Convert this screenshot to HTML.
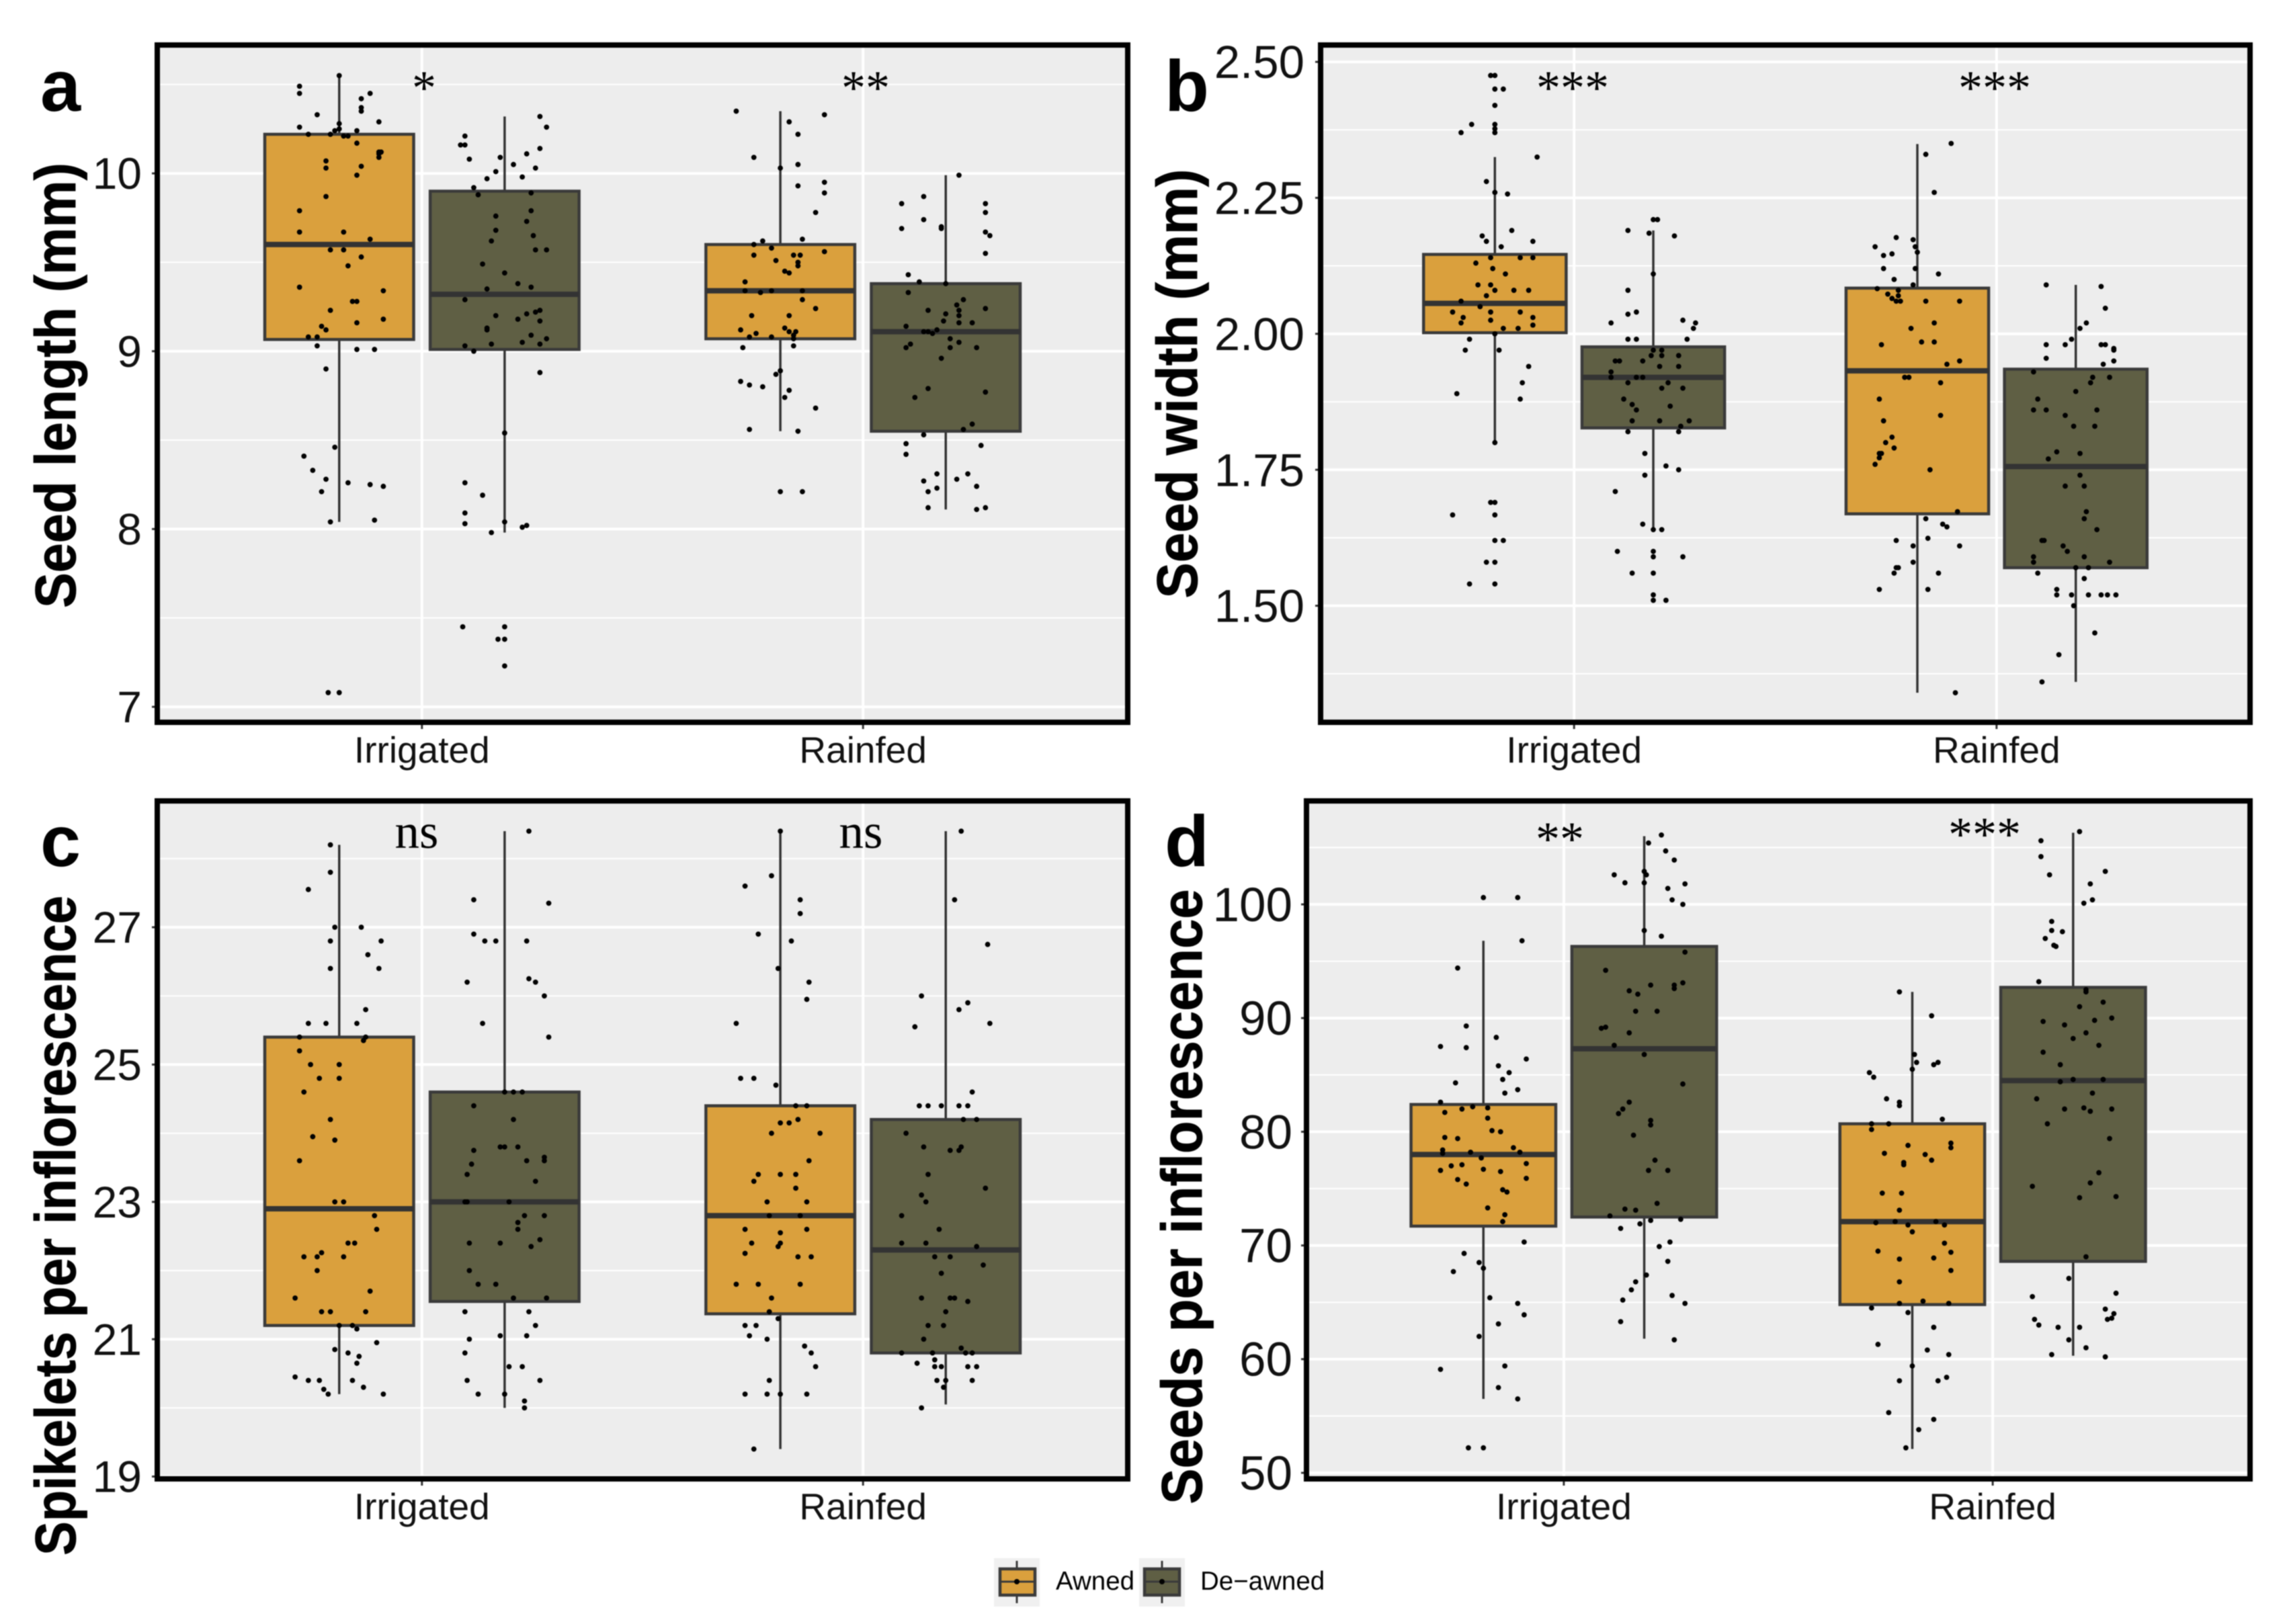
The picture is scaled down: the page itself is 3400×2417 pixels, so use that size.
<!DOCTYPE html>
<html lang="en">
<head>
<meta charset="utf-8">
<title>Seed traits boxplots</title>
<style>
html,body{margin:0;padding:0;background:#fff;}
#chart{display:block;width:3400px;height:2417px;filter:blur(0.8px);font-family:"Liberation Sans",sans-serif;}
.axt{font-family:"Liberation Sans",sans-serif;font-weight:700;font-size:78px;fill:#000;stroke:#000;stroke-width:0.8px;text-anchor:middle;}
.let{font-family:"Liberation Sans",sans-serif;font-weight:700;font-size:108px;fill:#000;}
.sig{font-family:"Liberation Serif",serif;font-size:72px;fill:#000;text-anchor:middle;}
.leg{font-family:"Liberation Sans",sans-serif;font-size:38.5px;fill:#000;}
</style>
</head>
<body>
<svg id="chart" xmlns="http://www.w3.org/2000/svg" width="3400" height="2417" viewBox="0 0 3400 2417">
<rect x="0" y="0" width="3400" height="2417" fill="#fff"/>
<g id="plots"></g>

<text class="let" x="60" y="165">a</text>
<text class="let" x="1733" y="165">b</text>
<text class="let" x="60" y="1289">c</text>
<text class="let" x="1733" y="1289">d</text>

<text class="axt" transform="translate(112,573.5) rotate(-90) scale(1.013,1.1)">Seed length (mm)</text>
<text class="axt" transform="translate(1781,571) rotate(-90) scale(1.024,1.1)">Seed width (mm)</text>
<text class="axt" transform="translate(112,1824) rotate(-90) scale(0.972,1.1)">Spikelets per inflorescence</text>
<text class="axt" transform="translate(1788,1781) rotate(-90) scale(1.02,1.1)">Seeds per inflorescence</text>

<text class="sig" x="631" y="155">*</text>
<text class="sig" x="1288" y="155">**</text>
<text class="sig" x="2340" y="155">***</text>
<text class="sig" x="2968" y="155">***</text>
<text class="sig" x="620" y="1262" style="font-size:73px">ns</text>
<text class="sig" x="1281" y="1262" style="font-size:73px">ns</text>
<text class="sig" x="2321" y="1273">**</text>
<text class="sig" x="2953" y="1266">***</text>

<g>
  <g>
    <rect x="1479" y="2319" width="68" height="72" fill="#f0f0f0"/>
    <line x1="1513" x2="1513" y1="2323" y2="2386" stroke="#3a3a3a" stroke-width="3"/>
    <rect x="1488" y="2335" width="52" height="39" fill="#daa03d" stroke="#3a3a3a" stroke-width="4.5"/>
    <line x1="1488" x2="1540" y1="2354" y2="2354" stroke="#3a3a3a" stroke-width="3"/>
    <circle cx="1513" cy="2354" r="4" fill="#000"/>
    <text class="leg" x="1571" y="2366">Awned</text>
  </g>
  <g>
    <rect x="1695" y="2319" width="68" height="72" fill="#f0f0f0"/>
    <line x1="1729" x2="1729" y1="2323" y2="2386" stroke="#3a3a3a" stroke-width="3"/>
    <rect x="1703" y="2335" width="52" height="39" fill="#5f5f44" stroke="#3a3a3a" stroke-width="4.5"/>
    <line x1="1703" x2="1755" y1="2354" y2="2354" stroke="#3a3a3a" stroke-width="3"/>
    <circle cx="1729" cy="2354" r="4" fill="#000"/>
    <text class="leg" x="1786" y="2366">De−awned</text>
  </g>
</g>
</svg>

<script>
// Shared categories
const categories = ['Irrigated', 'Rainfed'];
const treatments = ['Awned', 'De-awned'];

// Box statistics, order: Irrigated-Awned, Irrigated-De-awned, Rainfed-Awned, Rainfed-De-awned
const lengthQ1 = [9.066, 9.01, 9.07, 8.55];
const lengthMedian = [9.60, 9.32, 9.34, 9.11];
const lengthQ3 = [10.22, 9.90, 9.60, 9.38];
const lengthLow = [8.04, 7.98, 8.55, 8.11];
const lengthHigh = [10.55, 10.32, 10.35, 9.99];

const widthQ1 = [2.002, 1.827, 1.669, 1.57];
const widthMedian = [2.056, 1.92, 1.932, 1.756];
const widthQ3 = [2.146, 1.976, 2.084, 1.935];
const widthLow = [1.80, 1.64, 1.34, 1.36];
const widthHigh = [2.325, 2.19, 2.349, 2.09];

const spikeletQ1 = [21.2, 21.55, 21.37, 20.8];
const spikeletMedian = [22.9, 23, 22.8, 22.3];
const spikeletQ3 = [25.4, 24.6, 24.4, 24.2];
const spikeletLow = [20.2, 20, 19.4, 20.05];
const spikeletHigh = [28.2, 28.4, 28.4, 28.4];

const seedQ1 = [71.7, 72.5, 64.8, 68.6];
const seedMedian = [78, 87.3, 72.1, 84.5];
const seedQ3 = [82.4, 96.3, 80.7, 92.7];
const seedLow = [56.5, 61.8, 52.1, 60.3];
const seedHigh = [96.8, 106, 92.3, 106.3];

// Axis ticks
const lengthTicks = [7, 8, 9, 10];
const lengthTickLabels = ['7', '8', '9', '10'];
const lengthMinor = [7.5, 8.5, 9.5, 10.5];
const widthTicks = [1.5, 1.75, 2, 2.25, 2.5];
const widthTickLabels = ['1.50', '1.75', '2.00', '2.25', '2.50'];
const widthMinor = [1.375, 1.625, 1.875, 2.125, 2.375];
const spikeletTicks = [19, 21, 23, 25, 27];
const spikeletTickLabels = ['19', '21', '23', '25', '27'];
const spikeletMinor = [20, 22, 24, 26, 28];
const seedTicks = [50, 60, 70, 80, 90, 100];
const seedTickLabels = ['50', '60', '70', '80', '90', '100'];
const seedMinor = [55, 65, 75, 85, 95, 105];

// Jittered observations: [jitter in hundredths of an x-axis unit, measured value]
const lengthIrrAwned = [[0,10.55],[-9,10.49],[-9,10.45],[7,10.45],[5,10.42],[5,10.37],[5,10.35],[-5,10.33],[9,10.29],[-9,10.26],[0,10.28],[0,10.25],[-1,10.24],[4,10.24],[-7,10.22],[-2,10.22],[1,10.21],[2,10.21],[4,10.17],[9,10.12],[9.5,10.12],[9,10.11],[9,10.09],[-3,10.07],[-3,10.03],[5,10.04],[4,9.99],[-3,9.87],[-9,9.79],[-9,9.67],[1,9.67],[7,9.63],[-2,9.57],[1,9.57],[5,9.53],[2,9.48],[-9,9.36],[10,9.34],[3,9.28],[4,9.28],[-2,9.23],[10,9.18],[4,9.16],[-4,9.14],[-3,9.12],[-7,9.08],[-5,9.08],[-5,9.03],[4,9.01],[8,9.01],[-3,8.90],[-1,8.46],[-8,8.41],[-6,8.33],[-3,8.28],[2,8.26],[7,8.25],[10,8.24],[-4,8.21],[-2,8.04],[8,8.05],[-2.5,7.08],[0,7.08]];
const lengthIrrDeawned = [[8,10.32],[9.5,10.26],[-9,10.21],[-10,10.16],[-9,10.16],[8,10.14],[-8,10.08],[-1,10.09],[5,10.11],[2,10.05],[7,10.03],[-2,10.01],[4,9.98],[-4,9.97],[-7,9.92],[-6,9.88],[6,9.89],[6,9.79],[-2,9.76],[5,9.73],[-2,9.68],[6.5,9.65],[-3,9.62],[7,9.57],[9.5,9.57],[-5,9.49],[0,9.44],[3,9.38],[6,9.36],[-4,9.35],[-9,9.29],[8,9.23],[7,9.22],[5,9.21],[-2,9.20],[3,9.18],[8,9.17],[-4,9.13],[-4,9.12],[6,9.09],[9.5,9.07],[4,9.05],[-3,9.04],[8,9.04],[-9,9.03],[-7,9.00],[8,8.88],[0,8.54],[-9,8.26],[-5,8.19],[-9,8.09],[-9,8.03],[0,8.04],[4,8.01],[5,8.02],[-3,7.98],[-9.5,7.45],[0,7.45],[-1.5,7.38],[0,7.38],[0,7.23]];
const lengthRainAwned = [[-10,10.35],[10,10.33],[2,10.29],[4,10.22],[-6,10.09],[4,10.05],[0,10.03],[4,9.93],[10,9.95],[10,9.89],[8,9.78],[5,9.63],[-4,9.62],[-6,9.60],[-2,9.58],[10,9.56],[-6,9.54],[3,9.54],[4.5,9.54],[-1,9.51],[4,9.50],[4,9.48],[1,9.45],[2,9.44],[-8,9.39],[-8,9.34],[-4.5,9.33],[-2,9.34],[5,9.34],[5,9.29],[8,9.24],[-6.5,9.20],[2,9.20],[1,9.13],[-9,9.12],[2,9.11],[3.5,9.11],[-5.5,9.10],[-7,9.08],[-2,9.08],[3,9.09],[3,9.07],[3,9.03],[-8.5,9.02],[0,8.89],[-1,8.87],[-9,8.83],[-7,8.81],[-4,8.80],[2,8.78],[1,8.74],[8,8.68],[-7,8.56],[4,8.55],[0,8.21],[5,8.21]];
const lengthRainDeawned = [[3,9.99],[-10,9.83],[-5,9.87],[9,9.83],[9,9.78],[-5,9.74],[-10,9.69],[-1,9.70],[-1,9.69],[9,9.67],[10,9.65],[9,9.55],[-8.5,9.43],[-6,9.39],[0,9.38],[-8.5,9.33],[4,9.29],[2.5,9.26],[-4,9.23],[9,9.24],[3,9.23],[0,9.21],[3,9.20],[-0.5,9.17],[3,9.16],[6,9.16],[-9,9.14],[-5,9.11],[-4,9.11],[-2,9.12],[-3,9.10],[1,9.07],[3,9.05],[-8,9.04],[-9,9.02],[1,9.02],[7,9.02],[-1,8.96],[-4,8.79],[-7,8.74],[9,8.77],[6,8.59],[4,8.56],[-5,8.53],[-9,8.48],[8,8.47],[-9,8.42],[-2,8.31],[5,8.31],[2.5,8.28],[-5,8.27],[-2,8.23],[7,8.24],[-4,8.21],[-4,8.12],[7,8.11],[9,8.12]];

const widthIrrAwned = [[-1,2.475],[0,2.475],[0,2.45],[2,2.45],[0,2.42],[-5.5,2.385],[-8,2.37],[0,2.385],[0,2.377],[0,2.37],[10,2.325],[-2,2.28],[0,2.26],[3,2.257],[4,2.19],[-3,2.18],[-2,2.17],[9,2.17],[1.5,2.16],[-1,2.14],[6,2.14],[9,2.14],[-4.5,2.13],[-0.5,2.12],[2.5,2.11],[-4,2.09],[-1,2.09],[0,2.08],[4.5,2.08],[8,2.08],[-2,2.07],[-8,2.06],[-3.5,2.05],[-1,2.04],[-10,2.04],[6,2.04],[9,2.03],[-1,2.025],[-7.5,2.03],[-8,2.02],[9,2.016],[2,2.01],[5.5,2.01],[0,2.00],[-6,1.99],[-7,1.97],[1,1.97],[8,1.94],[6.5,1.91],[-9,1.89],[6,1.88],[0,1.80],[-1,1.69],[0,1.69],[-10,1.667],[0,1.667],[0,1.62],[2,1.62],[-2,1.58],[0,1.58],[-6,1.54],[0,1.54]];
const widthIrrDeawned = [[0,2.21],[1,2.21],[-6,2.19],[-1,2.185],[5,2.18],[0,2.11],[-6,2.08],[-4,2.04],[-6,2.036],[7,2.025],[-10,2.02],[10,2.02],[9.5,2.01],[8,1.99],[-6,1.99],[-4,1.99],[0,1.97],[2,1.97],[-0.5,1.96],[2,1.96],[6,1.96],[-9,1.95],[-8,1.95],[-2.5,1.95],[1.5,1.94],[6,1.94],[-10,1.93],[-10,1.92],[-4,1.92],[-2.5,1.92],[3.5,1.91],[-6,1.91],[2,1.90],[7,1.90],[-7,1.88],[-5,1.87],[-4,1.86],[4,1.867],[-5,1.84],[1.5,1.84],[8.5,1.84],[6.5,1.83],[-6,1.82],[6,1.82],[-2,1.78],[3,1.757],[6,1.75],[-2,1.74],[-9,1.71],[-2.5,1.65],[0,1.64],[2,1.64],[-8.5,1.60],[0,1.60],[0,1.59],[7,1.59],[-5,1.56],[0,1.56],[0,1.52],[0,1.51],[3,1.51]];
const widthRainAwned = [[8,2.35],[2,2.33],[4,2.26],[-5,2.177],[-1,2.173],[-10,2.16],[-0.5,2.16],[0,2.15],[-6,2.147],[-8,2.144],[-8,2.12],[-0.5,2.12],[5,2.11],[-5.5,2.10],[-1,2.09],[-9.5,2.083],[-4.5,2.08],[-7,2.073],[-4.5,2.07],[-6,2.065],[-5,2.06],[-4,2.06],[2,2.06],[10,2.06],[4,2.02],[-1.5,2.01],[1,1.985],[4,1.985],[-8.5,1.98],[10,1.95],[7,1.944],[-3,1.92],[-2,1.92],[5.5,1.91],[-9,1.88],[5.5,1.85],[-8,1.84],[-6,1.81],[-7.5,1.80],[-5.5,1.79],[-9,1.78],[-8.5,1.78],[-9,1.772],[-10,1.76],[3,1.75],[9.5,1.673],[2,1.66],[6,1.65],[7,1.645],[-5,1.62],[2.5,1.624],[-1,1.61],[10,1.61],[-1,1.58],[-5,1.57],[-4.5,1.57],[-5.5,1.56],[5,1.56],[-9,1.53],[2.5,1.53],[9,1.34]];
const widthRainDeawned = [[-7,2.09],[6,2.087],[7,2.047],[2.5,2.02],[1,2.01],[-1,1.99],[-2.5,1.98],[-7,1.98],[7,1.98],[6,1.98],[9,1.973],[9,1.97],[-7,1.955],[9,1.95],[6.5,1.944],[-10,1.93],[4,1.92],[8,1.92],[3.5,1.91],[0,1.894],[-9,1.88],[-10,1.86],[-7,1.86],[5,1.86],[-2.5,1.85],[-0.5,1.83],[4.5,1.83],[-4.5,1.783],[1,1.78],[-6.5,1.77],[1,1.74],[-2.5,1.72],[2,1.72],[2.5,1.673],[2,1.66],[5,1.64],[-8,1.62],[-7.5,1.62],[-3,1.61],[-2,1.60],[-10,1.59],[-10,1.58],[2,1.59],[8,1.58],[-9,1.56],[0,1.57],[3,1.57],[2,1.55],[-4.5,1.53],[-4.5,1.52],[-1,1.52],[3,1.52],[6,1.52],[7.5,1.52],[9.5,1.52],[-0.5,1.50],[4.5,1.45],[-4,1.41],[-8,1.36]];

const spikeletIrrAwned = [[-2,28.2],[-2,27.8],[-7,27.55],[-1,27],[5,27],[-2,26.8],[9.5,26.8],[6.5,26.6],[-2,26.4],[9,26.4],[6,25.8],[-7,25.6],[-3,25.6],[4,25.6],[-9,25.4],[6,25.4],[5.5,25.35],[-9,25.2],[-6.5,25],[0,25],[-4.5,24.8],[0,24.8],[-8,24.6],[-2,24.2],[-6,23.95],[-1,23.9],[-9,23.6],[-1,23],[1,23],[8,22.8],[8.5,22.6],[2,22.4],[3.5,22.4],[-8,22.2],[-4,22.26],[-5,22.2],[1,22.2],[-5,22],[7,21.7],[-10,21.6],[-4,21.4],[-2,21.4],[6,21.4],[0,21.2],[3,21.2],[4,21.15],[8.5,20.95],[-1,20.85],[2,20.8],[4.5,20.75],[4,20.65],[-10,20.45],[-7,20.4],[-4.5,20.4],[3,20.4],[5.5,20.3],[-3.5,20.27],[-2.5,20.2],[10,20.2]];
const spikeletIrrDeawned = [[5.5,28.4],[-7,27.4],[10,27.35],[-7,26.9],[-4.5,26.8],[-2,26.8],[5,26.8],[-8.5,26.2],[5.5,26.25],[7,26.2],[9,26],[-5,25.6],[10,25.4],[0,24.6],[2,24.6],[4,24.6],[-7,24.4],[2,24.2],[-7,23.75],[-1,23.8],[0,23.8],[3,23.8],[9,23.65],[5,23.6],[9,23.6],[-7.5,23.55],[-8.5,23.4],[7,23.3],[-9,23],[-8.5,23],[1,23],[4.5,22.8],[9,22.8],[3,22.7],[3,22.6],[-8,22.4],[-1,22.4],[8,22.45],[6,22.35],[-8,22],[-6,21.8],[-2,21.8],[2,21.6],[9.5,21.6],[-9,21.4],[5.5,21.4],[7,21.2],[5,21.05],[-1,21.05],[-8,21],[-9,20.8],[1,20.6],[4,20.6],[-8.5,20.4],[8,20.4],[-6,20.2],[0,20.2],[4.5,20.1],[4.5,20]];
const spikeletRainAwned = [[0,28.4],[-2,27.75],[-8,27.6],[4.5,27.4],[4.5,27.2],[-5,26.9],[2.5,26.8],[-0.5,26.4],[6.5,26.2],[6,25.95],[-10,25.6],[-9,24.8],[-6,24.8],[-1,24.7],[3.5,24.4],[6,24.4],[4,24.2],[0,24.15],[2,24.15],[-2,24],[9,24],[6.5,23.6],[-5,23.4],[0,23.4],[3.5,23.4],[-6,23.3],[3.5,23.2],[-3,23],[6,23],[-2.5,22.8],[4.5,22.8],[-8,22.6],[6,22.6],[0,22.55],[-6.5,22.4],[0,22.4],[-0.5,22.35],[-8,22.25],[4,22.2],[7,22.2],[-10,21.8],[-5,21.8],[4.5,21.8],[-2,21.6],[-2.5,21.4],[-0.5,21.3],[-8,21.2],[-5.5,21.2],[-7,21.05],[-3,21],[5.5,20.9],[7,20.8],[8,20.6],[-2.5,20.4],[-8,20.2],[-3,20.2],[0,20.2],[6,20.2],[-6,19.4]];
const spikeletRainDeawned = [[3.5,28.4],[2,27.4],[9.5,26.75],[-5.5,26],[5,25.9],[3,25.8],[-7,25.55],[10,25.6],[6,24.6],[-6,24.4],[-4,24.4],[-1,24.4],[3,24.4],[5,24.4],[4,24.2],[7,24.2],[-9,24],[-5,23.8],[1,23.75],[3,23.75],[3.5,23.8],[-4,23.4],[9,23.2],[-5.5,23.1],[-4.5,23],[-10,22.8],[-1.5,22.6],[-10,22.4],[-4.5,22.4],[7,22.35],[-2.5,22.2],[1,22.2],[8.5,22.08],[-1,21.96],[-5.5,21.6],[1,21.6],[2,21.6],[5,21.55],[0,21.4],[-4,21.2],[-0.5,21.2],[-5,21],[-10,20.8],[-3,20.8],[3.5,20.87],[4.5,20.8],[6,20.8],[-2.5,20.7],[-6.5,20.65],[-2.5,20.6],[-1,20.6],[5,20.6],[7,20.6],[-2,20.4],[0,20.4],[6,20.4],[-0.5,20.3],[-5.5,20]];

const seedIrrAwned = [[0,100.6],[8,100.6],[9,96.8],[-6,94.4],[-4,89.3],[3,88.3],[-10,87.5],[-4,87.4],[10,86.4],[3.5,85.8],[6,85.2],[4.5,84.6],[-6.5,84.3],[8,83.7],[5,83.4],[-10,82.6],[-2.5,82.2],[1,82.1],[-5,82],[-9,81.7],[1,81.2],[2,80.1],[4,80],[-9,79.5],[-6,79.4],[7,78.6],[8.5,78.2],[-9.5,78.4],[-9.5,78.1],[-3,78.2],[-0.5,77.7],[-7.5,77],[-5,77.1],[10,77.2],[-10,76.6],[0,76.7],[4,76.5],[-6,75.8],[10,75.9],[-4,75.4],[4.5,74.9],[5.5,74.7],[1,73.3],[5,72.7],[4.5,72.1],[9.5,70.3],[-4.5,69.3],[-1,68.5],[0,68],[-7,67.7],[1.5,65.4],[8,64.9],[9.5,63.9],[3.5,63.1],[-1,62],[5,59.4],[-10,59.1],[3.5,57.5],[8,56.5],[-3.5,52.2],[0,52.2]];
const seedIrrDeawned = [[4,106.1],[1,105.4],[5,104.7],[7,103.9],[0,102.9],[0.5,102.6],[-7,102.6],[-4.5,101.9],[0,101.9],[9.5,101.8],[5.5,101.4],[6.5,100.4],[9,100],[0,97.7],[4,97.2],[9.5,95.8],[-9,94.2],[9,93.1],[7,92.9],[7,92.6],[1.5,92.9],[-3.5,92.4],[-1.5,92.1],[-2,90.6],[3,90.6],[-9,89.2],[-10,89.1],[-3.5,88.7],[-7,87.6],[0,86.8],[9,84.2],[-3.5,82.6],[-5,82],[-6,81.6],[1.5,81],[1.5,80.6],[-2.5,79.7],[2.5,77.5],[1,76.6],[5.5,76.6],[3,73.7],[-4.5,73.2],[-2,73.1],[-8,72.6],[1.5,72.2],[8.5,72.3],[-1,71.9],[-5.5,71.5],[6,70.3],[3.5,69.9],[5.5,68.6],[0.5,67.4],[-2,66.8],[-3,66.1],[6.5,65.6],[-5,65.2],[9.5,64.9],[-5.5,63.3],[7,61.7]];
const seedRainAwned = [[-3,92.3],[4.5,90.2],[0.5,86.8],[6,86.1],[5,85.9],[1,86.1],[0,85.5],[-10,85.2],[-9,84.8],[-6,82.9],[-3,82.6],[-3,82.3],[7,81.1],[-5.5,80.7],[-9.5,80.7],[-9.5,80.2],[-1,78.8],[9,79],[9,78.6],[-6.5,78.1],[3,78],[4.5,77.5],[-2,77.3],[-2,77.1],[-7,74.6],[-2.5,74.6],[-3,73.1],[-8.5,72],[-4,72.1],[-1,71.8],[5.5,72.1],[7.5,71.8],[0,71.2],[7.5,70.2],[-8,69.5],[9,69.4],[-3,68.8],[5,68.9],[9,67.8],[-3,66.8],[2.5,65.1],[-3,64.9],[8.5,64.9],[-9.5,64.5],[-1,64.1],[5,62.8],[-8,61.3],[3.5,60.8],[8.5,60.4],[0,59.4],[8,58.4],[-3,58.1],[6,58.1],[-5.5,55.3],[5,54.7],[1.5,53.8],[-1.5,52.2]];
const seedRainDeawned = [[1.5,106.4],[-7.5,105.6],[-7.5,104.2],[-5.5,102.6],[7.5,102.9],[4,101.8],[4.5,100.4],[2.5,100.1],[-5,98.5],[-5,97.7],[-2.5,97.6],[-6.5,97],[-4.5,96.4],[-4,96.3],[-8,93.2],[3,92.5],[3,92.3],[7,91.4],[1.5,91],[9,90],[-7,89.7],[5,89.8],[-2,89.4],[3,88.7],[0,88.2],[6,87.6],[-7,87],[-3,85.9],[-3,84.4],[0,84.6],[7,84.6],[4.5,83.4],[-8.5,82.9],[-2,82],[2.5,82.1],[4,81.8],[9,82],[-6,80.7],[8.5,79.4],[6,76.4],[-9.5,75.2],[4,75.5],[1.5,74.2],[10,74.3],[3,69],[-1,67.1],[10,65.8],[-9.5,65.5],[7.5,64.4],[9.5,64],[8,63.5],[9,63.6],[-9,63.5],[-8,63],[-3.5,62.8],[1.5,62.8],[-1,61.7],[3,61],[-5,60.4],[7.5,60.2]];

// Layout and axis ranges for each facet
const panels = [
  {left:234, right:1678, top:67, bottom:1075, yMin:6.913, yMax:10.722, labelRight:211, tickSize:66,
   ticks:lengthTicks, tickLabels:lengthTickLabels, minor:lengthMinor,
   q1:lengthQ1, med:lengthMedian, q3:lengthQ3, low:lengthLow, high:lengthHigh,
   points:[lengthIrrAwned, lengthIrrDeawned, lengthRainAwned, lengthRainDeawned]},
  {left:1965, right:3348, top:67, bottom:1075, yMin:1.2857, yMax:2.531, labelRight:1941, tickSize:69,
   ticks:widthTicks, tickLabels:widthTickLabels, minor:widthMinor,
   q1:widthQ1, med:widthMedian, q3:widthQ3, low:widthLow, high:widthHigh,
   points:[widthIrrAwned, widthIrrDeawned, widthRainAwned, widthRainDeawned]},
  {left:234, right:1678, top:1192, bottom:2201, yMin:18.966, yMax:28.84, labelRight:211, tickSize:66,
   ticks:spikeletTicks, tickLabels:spikeletTickLabels, minor:spikeletMinor,
   q1:spikeletQ1, med:spikeletMedian, q3:spikeletQ3, low:spikeletLow, high:spikeletHigh,
   points:[spikeletIrrAwned, spikeletIrrDeawned, spikeletRainAwned, spikeletRainDeawned]},
  {left:1944, right:3348, top:1192, bottom:2201, yMin:49.47, yMax:109.1, labelRight:1923, tickSize:71,
   ticks:seedTicks, tickLabels:seedTickLabels, minor:seedMinor,
   q1:seedQ1, med:seedMedian, q3:seedQ3, low:seedLow, high:seedHigh,
   points:[seedIrrAwned, seedIrrDeawned, seedRainAwned, seedRainDeawned]}
];

const SVGNS = 'http://www.w3.org/2000/svg';
const boxFills = ['#daa03d', '#5f5f44'];
const boxWidth = 0.3375;
const dodge = 0.1875;
const root = document.getElementById('plots');

function make(parent, tag, attrs) {
  const el = document.createElementNS(SVGNS, tag);
  for (const k in attrs) el.setAttribute(k, attrs[k]);
  parent.appendChild(el);
  return el;
}
function xScale(p, u) { return p.left + (u - 0.4) / 2.2 * (p.right - p.left); }
function yScale(p, v) { return p.bottom - (v - p.yMin) / (p.yMax - p.yMin) * (p.bottom - p.top); }

panels.forEach(function (p) {
  const g = make(root, 'g', {});
  
  

  const bg = make(g, 'rect', {x:p.left, y:p.top, width:p.right-p.left, height:p.bottom-p.top, fill:'#ededed'});
  
  

  p.minor.forEach(function (v) {
    const l = make(g, 'line', {x1:p.left, x2:p.right, y1:yScale(p,v), y2:yScale(p,v), stroke:'#fff', 'stroke-width':2});
    
    
  });
  p.ticks.forEach(function (v, i) {
    const y = yScale(p, v);
    const l = make(g, 'line', {x1:p.left, x2:p.right, y1:y, y2:y, stroke:'#fff', 'stroke-width':4});
    
    
    const t = make(g, 'line', {x1:p.left-8, x2:p.left, y1:y, y2:y, stroke:'#333', 'stroke-width':3});
    
    
    const lab = make(g, 'text', {x:p.labelRight, y:y+0.35*p.tickSize, 'text-anchor':'end', 'font-size':p.tickSize, fill:'#111'});
    lab.textContent = p.tickLabels[i];
    
    
  });
  categories.forEach(function (c, i) {
    const x = xScale(p, i + 1);
    const l = make(g, 'line', {x1:x, x2:x, y1:p.top, y2:p.bottom, stroke:'#fff', 'stroke-width':4});
    
    
    const t = make(g, 'line', {x1:x, x2:x, y1:p.bottom, y2:p.bottom+10, stroke:'#333', 'stroke-width':3});
    
    
    const lab = make(g, 'text', {x:x, y:p.bottom+60, 'text-anchor':'middle', 'font-size':55, fill:'#111'});
    lab.textContent = c;
    
    
  });

  for (let k = 0; k < 4; k++) {
    const cat = Math.floor(k / 2);
    const tr = k % 2;
    const center = cat + 1 + (tr === 0 ? -dodge : dodge);
    const cx = xScale(p, center);
    const x0 = xScale(p, center - boxWidth / 2);
    const x1 = xScale(p, center + boxWidth / 2);

    const w = make(g, 'line', {x1:cx, x2:cx, y1:yScale(p,p.high[k]), y2:yScale(p,p.low[k]), stroke:'#333', 'stroke-width':3.5});
    
    

    const b = make(g, 'rect', {x:x0, y:yScale(p,p.q3[k]), width:x1-x0, height:yScale(p,p.q1[k])-yScale(p,p.q3[k]), fill:boxFills[tr], stroke:'#3a3a3a', 'stroke-width':4.5});
    
    

    const m = make(g, 'line', {x1:x0, x2:x1, y1:yScale(p,p.med[k]), y2:yScale(p,p.med[k]), stroke:'#333', 'stroke-width':8});
    
    

    p.points[k].forEach(function (pt) {
      const d = make(g, 'circle', {cx:xScale(p, center + pt[0] / 100), cy:yScale(p, pt[1]), r:3.9, fill:'#000'});
      
      
    });
  }

  const f = make(g, 'rect', {x:p.left, y:p.top, width:p.right-p.left, height:p.bottom-p.top, fill:'none', stroke:'#000', 'stroke-width':8});
  
  
});
</script>
</body>
</html>
